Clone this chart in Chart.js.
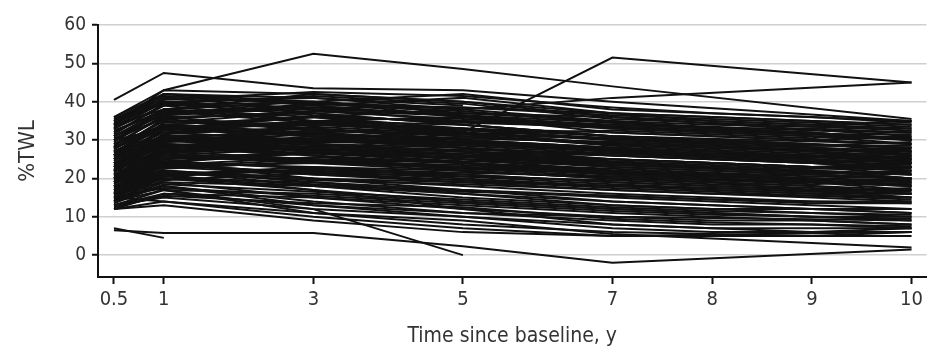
<!DOCTYPE html>
<html>
<head>
<meta charset="utf-8">
<script src="https://cdn.jsdelivr.net/npm/chart.js@4.4.0/dist/chart.umd.min.js"></script>
<style>
  html, body { margin: 0; padding: 0; background: #fff; }
  canvas { display: block; }
</style>
</head>
<body>
<canvas id="twlChart" width="927" height="353"></canvas>
<script>
// visit years, one value per year in every series below (null = no visit)
const years = [0.5, 1, 3, 5, 7, 8, 9, 10];
const yTicks = [0, 10, 20, 30, 40, 50, 60];

const highStart = [
    [36, 43, 42, 40, 37, 36, 35, 34],
    [35, 42, 41, 39, null, null, null, null],
    [34, 41, 40, 42, 38, null, null, 35],
    [33, 40, 38, 37, 35, 34, null, 33],
    [35, 40, 41, 38, null, null, null, null],
    [32, 39, 40, 36, 34, 33, 33, 32],
    [31, 38, 36, 35, 33, null, 31, 30],
    [34, 42, 39, 36, 32, 31, 30, 29],
    [30, 37, 38, 37, 36, 35, 34, 35],
    [33, 39, 35, 33, 30, null, null, 28],
    [29, 36, 37, 34, 31, 30, 29, 27],
    [32, 38, 42, 40, 36, null, null, 31],
    [28, 35, 34, 33, 32, 31, 30, 31],
    [30, 36, 33, 30, 28, 27, 26, 25],
    [35, 41, 38, 35, null, null, null, null],
    [31, 37, 39, 41, 37, 35, 34, 33],
    [29, 34, 36, 35, 34, 33, 32, 30],
    [33, 40, 37, 34, 31, 30, 28, 27],
    [34, 38, 35, 32, 29, null, null, 26],
    [28, 33, 35, 36, 33, 32, 31, 29],
    [36, 42, 40, 38, 35, 33, 32, 30],
    [30, 38, 40, 37, null, null, null, null]
];

const midStart = [
    [27, 33, 34, 32, 30, 29, 28, 26],
    [26, 32, 33, 31, 29, 28, 27, 28],
    [25, 31, 30, 29, 28, 26, 25, 24],
    [24, 30, 32, 30, 27, 26, 25, 23],
    [27, 34, 36, 33, 31, null, null, 29],
    [23, 29, 28, 27, 26, 25, 24, 22],
    [22, 28, 30, 28, 25, 24, 23, 21],
    [26, 31, 29, 27, 25, 24, 23, 22],
    [25, 33, 31, 28, 26, null, 24, 23],
    [21, 27, 29, 27, 24, 23, 22, 20],
    [24, 29, 27, 26, 24, 23, 22, 21],
    [28, 35, 33, 30, 28, 27, 26, 25],
    [20, 26, 25, 24, 22, 21, 20, 19],
    [23, 31, 32, 29, 27, 26, 25, 24],
    [27, 32, 30, 28, null, null, null, null],
    [22, 30, 27, 25, 23, 22, 21, 20],
    [26, 34, 32, 33, 30, 29, 28, 27],
    [24, 28, 26, 24, 22, null, null, 18],
    [21, 28, 31, 30, 28, 27, 26, 24],
    [25, 30, 28, 25, 22, 21, 20, 19],
    [23, 27, 25, 23, 21, 20, 19, 17],
    [28, 33, 31, 29, 27, 26, 24, 23],
    [20, 27, 29, 26, 23, 22, 21, 22],
    [22, 29, 26, 22, 20, 19, 18, 16],
    [26, 32, 35, 34, 31, 30, 29, 28],
    [24, 31, 28, 27, 25, 24, 23, 24],
    [27, 31, 27, 24, 21, null, null, 18],
    [21, 26, 24, 23, 22, 21, 21, 20],
    [25, 33, 36, 32, 29, 28, 27, 25],
    [23, 30, 29, 28, 26, 25, 24, 26],
    [22, 27, 28, 25, null, null, null, null],
    [26, 30, 27, 25, 24, 23, 22, 21],
    [20, 25, 27, 26, 25, 24, 23, 23],
    [28, 34, 29, 26, 24, 23, 22, 20]
];

const lowStart = [
    [19, 24, 23, 22, 20, 19, 18, 17],
    [18, 23, 25, 23, 21, 20, 19, 18],
    [17, 22, 20, 18, 16, 15, 14, 14],
    [16, 21, 22, 20, 18, 17, 16, 15],
    [19, 25, 27, 24, 22, 21, 20, 19],
    [15, 20, 19, 17, 15, 14, 13, 12],
    [14, 19, 18, 16, 14, 13, 12, 11],
    [18, 22, 19, 16, 13, 12, 12, 11],
    [13, 17, 16, 14, 12, 11, 10, 9],
    [17, 23, 24, 22, 20, 19, 17, 16],
    [12, 16, 15, 13, 11, 10, 9, 8],
    [16, 20, 17, 14, 12, 11, 10, 10],
    [19, 26, 28, 26, 24, 23, 22, 20],
    [15, 21, 23, 21, 19, 18, 17, 15],
    [14, 18, 14, 11, 9, 8, 8, 7],
    [18, 24, 21, 19, 17, 16, 15, 14],
    [13, 15, 12, 10, 8, 7, 7, 7],
    [17, 21, 17, 12, 10, null, null, 9],
    [16, 19, 15, 12, 8, 7, 6, 6],
    [20, 24, 20, 17, 14, 13, 12, 12],
    [12, 14, 10, 7, 5, null, null, 6],
    [15, 18, 13, 10, 7, 6, 6, 7],
    [19, 22, 18, 15, 13, 12, 11, 10],
    [14, 17, 11, 8, 6, null, 5, 6],
    [18, 21, 22, 21, 19, 18, 17, 17],
    [16, 22, 20, 19, 18, 17, 16, 16],
    [12, 13, 9, 6, 5, 5, null, 5],
    [13, 16, 13, 11, 10, 9, 9, 8]
];

const inBetween = [
    [35.5, 41.5, 39.5, 38.5, 36.5, 35.5, 34.5, 33.5],
    [33.5, 40.5, 42.5, 41.5, 38.5, 37, 36, 34.5],
    [31.5, 39.5, 41.5, 39.5, 35.5, null, null, 32.5],
    [29.5, 37.5, 38.5, 38.5, 37, 36, 35, 34],
    [27.5, 35.5, 37.5, 35.5, 33.5, 32.5, 31.5, 30.5],
    [26.5, 33.5, 31.5, 30.5, 29.5, 28.5, 27.5, 27.5],
    [25.5, 32.5, 34.5, 32.5, 30.5, 29.5, 28.5, 29.5],
    [24.5, 31.5, 33.5, 31.5, 28.5, 27.5, 26.5, 25.5],
    [23.5, 29.5, 31.5, 30.5, 29.5, 28.5, 27.5, 26.5],
    [22.5, 28.5, 27.5, 26.5, 24.5, 23.5, 22.5, 22.5],
    [21.5, 29.5, 30.5, 28.5, 26.5, 25.5, 24.5, 23.5],
    [20.5, 26.5, 28.5, 27.5, 26.5, 25.5, 24.5, 24.5],
    [19.5, 25.5, 24.5, 23.5, 21.5, 20.5, 19.5, 18.5],
    [18.5, 24.5, 26.5, 25.5, 23.5, 22.5, 21.5, 21.5],
    [17.5, 23.5, 21.5, 20.5, 19.5, 18.5, 17.5, 16.5],
    [16.5, 22.5, 24.5, 22.5, 20.5, 19.5, 18.5, 19.5],
    [15.5, 20.5, 18.5, 16.5, 15.5, 14.5, 13.5, 13.5],
    [14.5, 19.5, 21.5, 19.5, 17.5, 16.5, 15.5, 14.5],
    [13.5, 18.5, 16.5, 14.5, 12.5, 11.5, 11, 10.5],
    [12.5, 15.5, 13.5, 12.5, 9.5, 8.5, 8, 7.5],
    [34.5, 39.5, 36.5, 34.5, 33.5, 32.5, 31.5, 31.5],
    [32.5, 37.5, 34.5, 31.5, 30.5, 29.5, 28.5, 28.5],
    [30.5, 35.5, 32.5, 31.5, 32.5, 31.5, 30.5, 32.5],
    [28.5, 36.5, 39.5, 37.5, 34.5, null, null, 30.5],
    [26, 34.5, 37.5, 36.5, 33.5, 32.5, 31.5, 30],
    [24, 30.5, 29.5, 29.5, 27.5, 26.5, 25.5, 24.5],
    [22, 27.5, 29.5, 29, 27, 26, 25.5, 25],
    [20, 28.5, 26.5, 24.5, 23.5, 22.5, 21.5, 21],
    [18, 23.5, 25.5, 24, 22.5, 21.5, 20.5, 20],
    [16, 21.5, 19.5, 18.5, 17, 16, 15.5, 15],
    [14, 20.5, 22.5, 20.5, 18.5, 17.5, 16.5, 17.5],
    [31, 36.5, 38.5, 36.5, 34.5, 33.5, 32.5, 32],
    [29, 33.5, 31.5, 29.5, 27, 26, 25.5, 26.5],
    [27, 30.5, 32.5, 31, 29, 28, 27.5, 27],
    [25, 28.5, 30.5, 29.5, 27.5, 26.5, 26, 25.5],
    [23, 26.5, 24.5, 22.5, 21.5, 20.5, 20, 19.5],
    [21, 24.5, 22.5, 21.5, 20.5, 19.5, 19, 18.5],
    [19, 23, 21, 19.5, 18, 17.5, 16.5, 16],
    [17, 20, 18, 17, 15.5, 14.5, 14, 13.5],
    [15, 17.5, 15.5, 13.5, 11.5, 10.5, 10, 9.5]
];

const outliers = [
    [40.5, 47.5, 43.5, 43, 40, null, null, 35],
    [34, 43, 52.5, 48.5, 44, null, null, 35.5],
    [22, 24, 27, 32, 51.5, null, null, 45],
    [30, 33, 36, 38, 41, null, null, 45],
    [18, 17, 12, 0, null, null, null, null],
    [7, 4.5, null, null, null, null, null, null],
    [6.5, 5.8, 5.8, 2.3, -2, null, null, 1.5],
    [15, 14, 11, 9, 5.5, null, null, 2]
];

// where each visit year sits along the x axis (the printed axis is not evenly spaced)
const slots = [0, 0.5, 2, 3.5, 5, 6, 7, 8];

const FONT = "'DejaVu Sans Condensed', 'DejaVu Sans', sans-serif";
const TEXT = "#333";

function toPoints(series) {
    return series
        .map((v, i) => v === null ? null : { x: slots[i], y: v })
        .filter(p => p !== null);
}

const allSeries = [].concat(highStart, midStart, lowStart, inBetween, outliers);
const datasets = allSeries.map(s => ({
    data: toPoints(s),
    borderColor: "#111",
    borderWidth: 2,
    pointRadius: 0,
    tension: 0,
    fill: false
}));

let ctx = document.getElementById("twlChart").getContext("2d");
let twlChart = new Chart(ctx, {
    type: "line",
    data: { datasets: datasets },
    options: {
        responsive: false,
        animation: false,
        layout: { padding: { left: 0, right: 0, top: 25, bottom: 0 } },
        plugins: {
            legend: { display: false },
            tooltip: { enabled: false }
        },
        scales: {
            x: {
                type: "linear",
                min: -0.16,
                max: 8.15,
                afterBuildTicks: scale => {
                    scale.ticks = slots.map(v => ({ value: v }));
                },
                afterFit: scale => { scale.height = 76; },
                ticks: {
                    color: TEXT,
                    font: { family: FONT, size: 20 },
                    padding: 4,
                    maxRotation: 0,
                    autoSkip: false,
                    callback: value => String(years[slots.indexOf(value)])
                },
                grid: {
                    drawOnChartArea: false,
                    drawTicks: true,
                    tickLength: 7,
                    tickColor: "#111",
                    tickWidth: 2
                },
                border: { display: true, color: "#111", width: 2 },
                title: {
                    display: true,
                    text: "Time since baseline, y",
                    color: TEXT,
                    font: { family: FONT, size: 21 },
                    padding: { top: 0, bottom: 4 }
                }
            },
            y: {
                min: -5.7,
                max: 60,
                afterBuildTicks: scale => {
                    scale.ticks = yTicks.map(v => ({ value: v }));
                },
                afterFit: scale => { scale.width = 98; },
                ticks: {
                    color: TEXT,
                    font: { family: FONT, size: 19 },
                    padding: 6
                },
                grid: {
                    color: "#cfcfcf",
                    lineWidth: 1.5,
                    drawTicks: true,
                    tickLength: 6,
                    tickColor: "#111",
                    tickWidth: 2
                },
                border: { display: true, color: "#111", width: 2 },
                title: {
                    display: true,
                    text: "%TWL",
                    color: TEXT,
                    font: { family: FONT, size: 22 },
                    padding: { top: 15, bottom: 0 }
                }
            }
        }
    }
});
</script>
</body>
</html>
